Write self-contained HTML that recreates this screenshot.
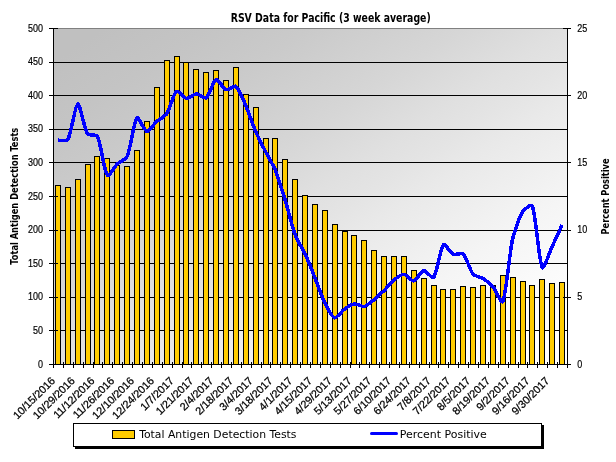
<!DOCTYPE html>
<html lang="en"><head><meta charset="utf-8"><title>RSV Data for Pacific (3 week average)</title>
<style>html,body{margin:0;padding:0;background:#fff}svg{display:block}text{font-family:"Liberation Sans",Arial,sans-serif;fill:#000}.t{font-family:"DejaVu Sans Condensed","DejaVu Sans","Liberation Sans",sans-serif}.u{font-family:"DejaVu Sans","Liberation Sans",sans-serif}</style></head><body>
<svg width="616" height="462" viewBox="0 0 616 462">
<defs><linearGradient id="g" x1="0" y1="0" x2="1" y2="1"><stop offset="0.00" stop-color="rgb(192,192,192)"/><stop offset="0.05" stop-color="rgb(192,192,192)"/><stop offset="0.10" stop-color="rgb(194,194,194)"/><stop offset="0.15" stop-color="rgb(196,196,196)"/><stop offset="0.20" stop-color="rgb(199,199,199)"/><stop offset="0.25" stop-color="rgb(202,202,202)"/><stop offset="0.30" stop-color="rgb(206,206,206)"/><stop offset="0.35" stop-color="rgb(210,210,210)"/><stop offset="0.40" stop-color="rgb(214,214,214)"/><stop offset="0.45" stop-color="rgb(219,219,219)"/><stop offset="0.50" stop-color="rgb(224,224,224)"/><stop offset="0.55" stop-color="rgb(228,228,228)"/><stop offset="0.60" stop-color="rgb(233,233,233)"/><stop offset="0.65" stop-color="rgb(237,237,237)"/><stop offset="0.70" stop-color="rgb(241,241,241)"/><stop offset="0.75" stop-color="rgb(245,245,245)"/><stop offset="0.80" stop-color="rgb(248,248,248)"/><stop offset="0.85" stop-color="rgb(251,251,251)"/><stop offset="0.90" stop-color="rgb(253,253,253)"/><stop offset="0.95" stop-color="rgb(255,255,255)"/><stop offset="1.00" stop-color="rgb(255,255,255)"/></linearGradient></defs>
<rect width="616" height="462" fill="#fff"/>
<rect x="53" y="28" width="515" height="337" fill="url(#g)"/>
<path d="M53 28.5H568 M53 62.5H568 M53 95.5H568 M53 129.5H568 M53 162.5H568 M53 196.5H568 M53 230.5H568 M53 263.5H568 M53 297.5H568 M53 330.5H568" stroke="#000" stroke-width="1" fill="none" shape-rendering="crispEdges"/>
<path d="M53 28.5H568" stroke="#808080" stroke-width="1" shape-rendering="crispEdges"/>
<g fill="#ffcc00" stroke="#000" stroke-width="1" shape-rendering="crispEdges"><rect x="55.5" y="185.5" width="5" height="179.0"/><rect x="65.5" y="187.5" width="5" height="177.0"/><rect x="75.5" y="179.5" width="5" height="185.0"/><rect x="85.5" y="164.5" width="5" height="200.0"/><rect x="94.5" y="156.5" width="5" height="208.0"/><rect x="104.5" y="158.5" width="5" height="206.0"/><rect x="114.5" y="165.5" width="5" height="199.0"/><rect x="124.5" y="166.5" width="5" height="198.0"/><rect x="134.5" y="150.5" width="5" height="214.0"/><rect x="144.5" y="121.5" width="5" height="243.0"/><rect x="154.5" y="87.5" width="5" height="277.0"/><rect x="164.5" y="60.5" width="5" height="304.0"/><rect x="174.5" y="56.5" width="5" height="308.0"/><rect x="183.5" y="62.5" width="5" height="302.0"/><rect x="193.5" y="69.5" width="5" height="295.0"/><rect x="203.5" y="72.5" width="5" height="292.0"/><rect x="213.5" y="70.5" width="5" height="294.0"/><rect x="223.5" y="80.5" width="5" height="284.0"/><rect x="233.5" y="67.5" width="5" height="297.0"/><rect x="243.5" y="94.5" width="5" height="270.0"/><rect x="253.5" y="107.5" width="5" height="257.0"/><rect x="263.5" y="138.5" width="5" height="226.0"/><rect x="272.5" y="138.5" width="5" height="226.0"/><rect x="282.5" y="159.5" width="5" height="205.0"/><rect x="292.5" y="179.5" width="5" height="185.0"/><rect x="302.5" y="195.5" width="5" height="169.0"/><rect x="312.5" y="204.5" width="5" height="160.0"/><rect x="322.5" y="210.5" width="5" height="154.0"/><rect x="332.5" y="224.5" width="5" height="140.0"/><rect x="342.5" y="231.5" width="5" height="133.0"/><rect x="351.5" y="235.5" width="5" height="129.0"/><rect x="361.5" y="240.5" width="5" height="124.0"/><rect x="371.5" y="250.5" width="5" height="114.0"/><rect x="381.5" y="256.5" width="5" height="108.0"/><rect x="391.5" y="256.5" width="5" height="108.0"/><rect x="401.5" y="256.5" width="5" height="108.0"/><rect x="411.5" y="270.5" width="5" height="94.0"/><rect x="421.5" y="278.5" width="5" height="86.0"/><rect x="431.5" y="285.5" width="5" height="79.0"/><rect x="440.5" y="289.5" width="5" height="75.0"/><rect x="450.5" y="289.5" width="5" height="75.0"/><rect x="460.5" y="286.5" width="5" height="78.0"/><rect x="470.5" y="287.5" width="5" height="77.0"/><rect x="480.5" y="285.5" width="5" height="79.0"/><rect x="490.5" y="285.5" width="5" height="79.0"/><rect x="500.5" y="275.5" width="5" height="89.0"/><rect x="510.5" y="277.5" width="5" height="87.0"/><rect x="520.5" y="281.5" width="5" height="83.0"/><rect x="529.5" y="285.5" width="5" height="79.0"/><rect x="539.5" y="279.5" width="5" height="85.0"/><rect x="549.5" y="283.5" width="5" height="81.0"/><rect x="559.5" y="282.5" width="5" height="82.0"/></g>
<path d="M53.5 28V365 M567.5 28V365 M53 364.5H568 M49 28.5H58 M563 28.5H571 M49 62.5H58 M49 95.5H58 M563 95.5H571 M49 129.5H58 M49 162.5H58 M563 162.5H571 M49 196.5H58 M49 230.5H58 M563 230.5H571 M49 263.5H58 M49 297.5H58 M563 297.5H571 M49 330.5H58 M49 364.5H58 M563 364.5H571 M53.5 362V368 M63.5 362V368 M73.5 362V368 M83.5 362V368 M93.5 362V368 M102.5 362V368 M112.5 362V368 M122.5 362V368 M132.5 362V368 M142.5 362V368 M152.5 362V368 M162.5 362V368 M172.5 362V368 M182.5 362V368 M191.5 362V368 M201.5 362V368 M211.5 362V368 M221.5 362V368 M231.5 362V368 M241.5 362V368 M251.5 362V368 M261.5 362V368 M270.5 362V368 M280.5 362V368 M290.5 362V368 M300.5 362V368 M310.5 362V368 M320.5 362V368 M330.5 362V368 M340.5 362V368 M350.5 362V368 M359.5 362V368 M369.5 362V368 M379.5 362V368 M389.5 362V368 M399.5 362V368 M409.5 362V368 M419.5 362V368 M429.5 362V368 M438.5 362V368 M448.5 362V368 M458.5 362V368 M468.5 362V368 M478.5 362V368 M488.5 362V368 M498.5 362V368 M508.5 362V368 M518.5 362V368 M527.5 362V368 M537.5 362V368 M547.5 362V368 M557.5 362V368 M567.5 362V368" stroke="#000" stroke-width="1" fill="none" shape-rendering="crispEdges"/>
<path d="M57.9 140.2C59.8 140.1 66.6 141.9 67.8 139.7C71.5 133.0 75.1 104.8 77.7 104.0C80.0 103.3 83.9 127.9 87.6 133.9C88.8 135.9 96.3 133.8 97.5 136.4C101.1 144.1 103.8 170.4 107.4 175.4C108.7 177.3 114.6 166.6 117.2 164.0C119.5 161.9 125.9 159.3 127.1 156.5C130.8 148.0 133.6 122.4 137.0 118.0C138.5 116.2 144.3 130.9 146.9 131.4C149.1 131.8 154.2 123.7 156.8 121.4C159.1 119.4 165.0 116.3 166.7 113.8C169.9 108.9 173.3 93.8 176.6 91.3C178.2 90.0 183.9 98.1 186.4 98.4C188.7 98.7 193.9 93.9 196.3 93.8C198.7 93.7 204.6 99.0 206.2 97.8C209.4 95.5 213.2 80.7 216.1 79.5C218.1 78.7 223.2 88.8 226.0 89.8C228.0 90.5 234.3 85.0 235.9 86.3C239.1 88.9 243.6 100.6 245.8 105.5C248.5 111.8 252.9 125.1 255.6 131.4C257.8 136.5 263.0 146.6 265.5 151.5C267.9 156.2 273.5 165.5 275.4 170.3C278.3 177.5 283.0 193.0 285.3 200.5C287.9 209.0 292.1 226.7 295.2 235.0C297.0 239.9 302.8 249.2 305.1 254.0C307.7 259.7 312.6 271.8 314.9 277.7C317.4 283.9 321.9 297.0 324.8 303.0C326.8 306.9 331.9 317.0 334.7 317.8C336.8 318.4 341.9 310.9 344.6 309.0C346.8 307.4 351.9 304.3 354.5 304.0C356.8 303.7 362.1 307.0 364.4 306.5C367.0 305.9 371.9 301.4 374.2 299.5C376.8 297.4 381.8 292.8 384.1 290.5C386.7 288.0 391.3 282.2 394.0 280.0C396.2 278.2 401.5 274.2 403.9 274.3C406.4 274.4 411.6 281.3 413.8 280.9C416.4 280.4 421.0 271.1 423.7 270.6C425.9 270.2 432.3 279.2 433.6 277.5C437.2 272.8 440.0 248.9 443.4 244.8C444.8 243.2 450.5 252.8 453.3 254.1C455.4 255.1 461.7 252.6 463.2 254.1C466.6 257.5 469.8 270.1 473.1 274.2C474.7 276.1 480.8 277.0 483.0 278.4C485.6 280.1 490.8 284.3 492.9 286.7C495.7 290.0 501.5 304.4 502.8 301.5C506.4 292.7 509.3 254.2 512.6 239.0C514.2 232.1 519.0 217.8 522.5 212.0C523.9 209.7 531.2 203.1 532.4 206.5C536.1 216.8 538.7 260.3 542.3 267.5C543.6 270.2 549.8 251.7 552.2 246.5C554.6 241.2 560.2 229.0 562.1 225.0" stroke="#0000ff" stroke-width="3.5" fill="none" stroke-linejoin="round" stroke-linecap="butt" shape-rendering="crispEdges"/>
<text class="t" x="330.7" y="21.7" font-size="11.5" font-weight="bold" text-anchor="middle" textLength="200" lengthAdjust="spacingAndGlyphs">RSV Data for Pacific (3 week average)</text>
<text x="43" y="31.5" font-size="11" stroke="#000" stroke-width="0.2" text-anchor="end" textLength="15" lengthAdjust="spacingAndGlyphs">500</text>
<text x="43" y="65.1" font-size="11" stroke="#000" stroke-width="0.2" text-anchor="end" textLength="15" lengthAdjust="spacingAndGlyphs">450</text>
<text x="43" y="98.7" font-size="11" stroke="#000" stroke-width="0.2" text-anchor="end" textLength="15" lengthAdjust="spacingAndGlyphs">400</text>
<text x="43" y="132.3" font-size="11" stroke="#000" stroke-width="0.2" text-anchor="end" textLength="15" lengthAdjust="spacingAndGlyphs">350</text>
<text x="43" y="165.9" font-size="11" stroke="#000" stroke-width="0.2" text-anchor="end" textLength="15" lengthAdjust="spacingAndGlyphs">300</text>
<text x="43" y="199.5" font-size="11" stroke="#000" stroke-width="0.2" text-anchor="end" textLength="15" lengthAdjust="spacingAndGlyphs">250</text>
<text x="43" y="233.1" font-size="11" stroke="#000" stroke-width="0.2" text-anchor="end" textLength="15" lengthAdjust="spacingAndGlyphs">200</text>
<text x="43" y="266.7" font-size="11" stroke="#000" stroke-width="0.2" text-anchor="end" textLength="15" lengthAdjust="spacingAndGlyphs">150</text>
<text x="43" y="300.3" font-size="11" stroke="#000" stroke-width="0.2" text-anchor="end" textLength="15" lengthAdjust="spacingAndGlyphs">100</text>
<text x="43" y="333.9" font-size="11" stroke="#000" stroke-width="0.2" text-anchor="end" textLength="10" lengthAdjust="spacingAndGlyphs">50</text>
<text x="43" y="367.5" font-size="11" stroke="#000" stroke-width="0.2" text-anchor="end" textLength="5" lengthAdjust="spacingAndGlyphs">0</text>
<text x="577.2" y="31.5" font-size="11" stroke="#000" stroke-width="0.2" textLength="10" lengthAdjust="spacingAndGlyphs">25</text>
<text x="577.2" y="98.7" font-size="11" stroke="#000" stroke-width="0.2" textLength="10" lengthAdjust="spacingAndGlyphs">20</text>
<text x="577.2" y="165.9" font-size="11" stroke="#000" stroke-width="0.2" textLength="10" lengthAdjust="spacingAndGlyphs">15</text>
<text x="577.2" y="233.1" font-size="11" stroke="#000" stroke-width="0.2" textLength="10" lengthAdjust="spacingAndGlyphs">10</text>
<text x="577.2" y="300.3" font-size="11" stroke="#000" stroke-width="0.2" textLength="5" lengthAdjust="spacingAndGlyphs">5</text>
<text x="577.2" y="367.5" font-size="11" stroke="#000" stroke-width="0.2" textLength="5" lengthAdjust="spacingAndGlyphs">0</text>
<text transform="translate(52.9 378.6) rotate(-45)" x="0" y="4" font-size="10.8" stroke="#000" stroke-width="0.25" text-anchor="end">10/15/2016</text>
<text transform="translate(72.7 378.6) rotate(-45)" x="0" y="4" font-size="10.8" stroke="#000" stroke-width="0.25" text-anchor="end">10/29/2016</text>
<text transform="translate(92.5 378.6) rotate(-45)" x="0" y="4" font-size="10.8" stroke="#000" stroke-width="0.25" text-anchor="end">11/12/2016</text>
<text transform="translate(112.2 378.6) rotate(-45)" x="0" y="4" font-size="10.8" stroke="#000" stroke-width="0.25" text-anchor="end">11/26/2016</text>
<text transform="translate(132.0 378.6) rotate(-45)" x="0" y="4" font-size="10.8" stroke="#000" stroke-width="0.25" text-anchor="end">12/10/2016</text>
<text transform="translate(151.8 378.6) rotate(-45)" x="0" y="4" font-size="10.8" stroke="#000" stroke-width="0.25" text-anchor="end">12/24/2016</text>
<text transform="translate(171.6 378.6) rotate(-45)" x="0" y="4" font-size="10.8" stroke="#000" stroke-width="0.25" text-anchor="end">1/7/2017</text>
<text transform="translate(191.3 378.6) rotate(-45)" x="0" y="4" font-size="10.8" stroke="#000" stroke-width="0.25" text-anchor="end">1/21/2017</text>
<text transform="translate(211.1 378.6) rotate(-45)" x="0" y="4" font-size="10.8" stroke="#000" stroke-width="0.25" text-anchor="end">2/4/2017</text>
<text transform="translate(230.9 378.6) rotate(-45)" x="0" y="4" font-size="10.8" stroke="#000" stroke-width="0.25" text-anchor="end">2/18/2017</text>
<text transform="translate(250.6 378.6) rotate(-45)" x="0" y="4" font-size="10.8" stroke="#000" stroke-width="0.25" text-anchor="end">3/4/2017</text>
<text transform="translate(270.4 378.6) rotate(-45)" x="0" y="4" font-size="10.8" stroke="#000" stroke-width="0.25" text-anchor="end">3/18/2017</text>
<text transform="translate(290.2 378.6) rotate(-45)" x="0" y="4" font-size="10.8" stroke="#000" stroke-width="0.25" text-anchor="end">4/1/2017</text>
<text transform="translate(309.9 378.6) rotate(-45)" x="0" y="4" font-size="10.8" stroke="#000" stroke-width="0.25" text-anchor="end">4/15/2017</text>
<text transform="translate(329.7 378.6) rotate(-45)" x="0" y="4" font-size="10.8" stroke="#000" stroke-width="0.25" text-anchor="end">4/29/2017</text>
<text transform="translate(349.5 378.6) rotate(-45)" x="0" y="4" font-size="10.8" stroke="#000" stroke-width="0.25" text-anchor="end">5/13/2017</text>
<text transform="translate(369.2 378.6) rotate(-45)" x="0" y="4" font-size="10.8" stroke="#000" stroke-width="0.25" text-anchor="end">5/27/2017</text>
<text transform="translate(389.0 378.6) rotate(-45)" x="0" y="4" font-size="10.8" stroke="#000" stroke-width="0.25" text-anchor="end">6/10/2017</text>
<text transform="translate(408.8 378.6) rotate(-45)" x="0" y="4" font-size="10.8" stroke="#000" stroke-width="0.25" text-anchor="end">6/24/2017</text>
<text transform="translate(428.6 378.6) rotate(-45)" x="0" y="4" font-size="10.8" stroke="#000" stroke-width="0.25" text-anchor="end">7/8/2017</text>
<text transform="translate(448.3 378.6) rotate(-45)" x="0" y="4" font-size="10.8" stroke="#000" stroke-width="0.25" text-anchor="end">7/22/2017</text>
<text transform="translate(468.1 378.6) rotate(-45)" x="0" y="4" font-size="10.8" stroke="#000" stroke-width="0.25" text-anchor="end">8/5/2017</text>
<text transform="translate(487.9 378.6) rotate(-45)" x="0" y="4" font-size="10.8" stroke="#000" stroke-width="0.25" text-anchor="end">8/19/2017</text>
<text transform="translate(507.6 378.6) rotate(-45)" x="0" y="4" font-size="10.8" stroke="#000" stroke-width="0.25" text-anchor="end">9/2/2017</text>
<text transform="translate(527.4 378.6) rotate(-45)" x="0" y="4" font-size="10.8" stroke="#000" stroke-width="0.25" text-anchor="end">9/16/2017</text>
<text transform="translate(547.2 378.6) rotate(-45)" x="0" y="4" font-size="10.8" stroke="#000" stroke-width="0.25" text-anchor="end">9/30/2017</text>
<text class="t" transform="translate(18.2 196.2) rotate(-90)" font-size="10.7" font-weight="bold" text-anchor="middle" textLength="137" lengthAdjust="spacingAndGlyphs">Total Antigen Detection Tests</text>
<text class="t" transform="translate(608.7 196.5) rotate(-90)" font-size="10.7" font-weight="bold" text-anchor="middle" textLength="76" lengthAdjust="spacingAndGlyphs">Percent Positive</text>
<rect x="75" y="425" width="469" height="24" fill="#000"/>
<rect x="73.5" y="423.5" width="468" height="23" fill="#fff" stroke="#000" stroke-width="1" shape-rendering="crispEdges"/>
<rect x="112.5" y="430.5" width="22" height="8" fill="#ffcc00" stroke="#000" stroke-width="1" shape-rendering="crispEdges"/>
<text class="u" x="139.2" y="438.3" font-size="11" textLength="157.3" lengthAdjust="spacingAndGlyphs">Total Antigen Detection Tests</text>
<path d="M371.5 433.5H396.5" stroke="#0000ff" stroke-width="3" stroke-linecap="round"/>
<text class="u" x="399.8" y="438.3" font-size="11" textLength="87" lengthAdjust="spacingAndGlyphs">Percent Positive</text>
</svg></body></html>
